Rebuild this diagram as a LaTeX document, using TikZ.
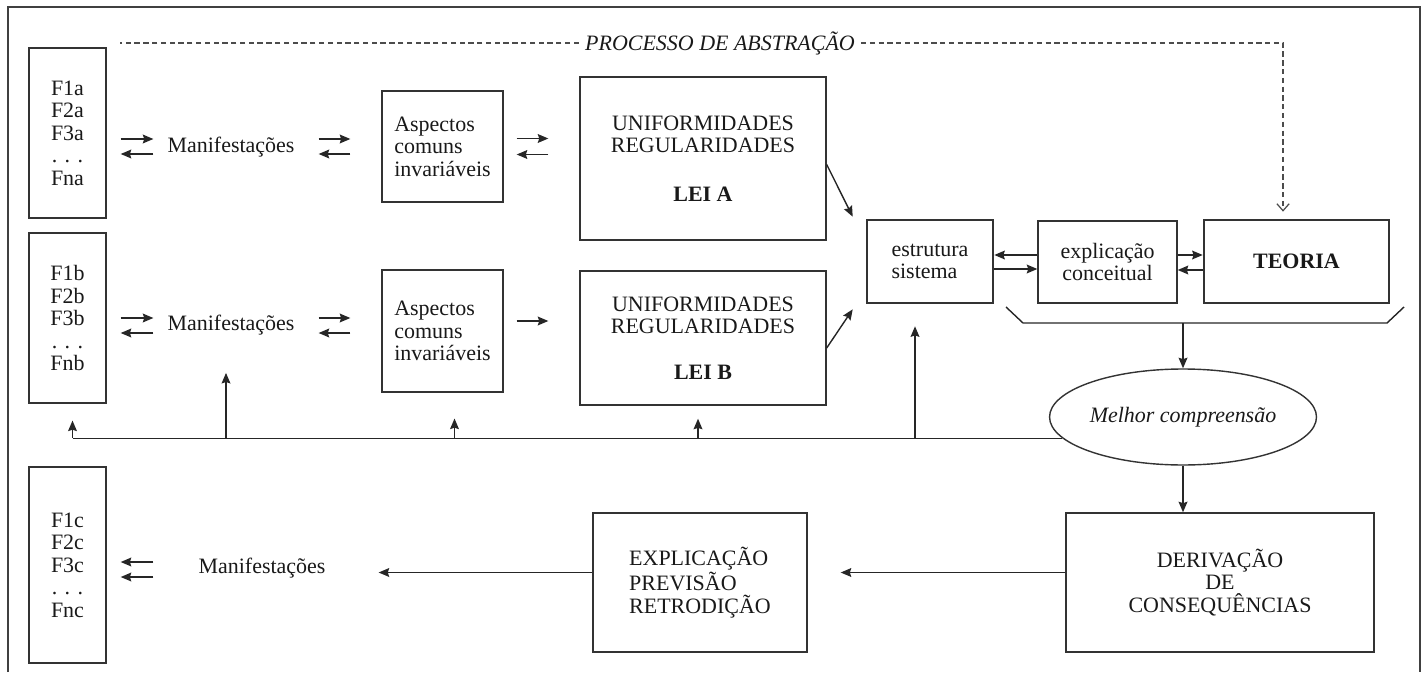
\documentclass[tikz,border=0pt]{standalone}
\usepackage{fontspec}
\setmainfont{Liberation Serif}
\usepackage{tikz}
\usetikzlibrary{arrows.meta, calc, shapes.geometric}
\newcommand{\dfont}{\fontsize{12.5}{12.8}\selectfont}

\begin{document}
\begin{tikzpicture}[x=0.02cm, y=-0.02cm,
    box/.style={draw=black!80, line width=0.8pt, font=\dfont, text=black!90, align=center, inner sep=0pt},
    thk/.style={box, line width=1.5pt},
    lbl/.style={font=\dfont, text=black!90},
    conn/.style={draw=black!85, line width=0.8pt},
    arr/.style={conn, -{Stealth[length=6pt,width=5pt,inset=0.8pt]}},
    dashline/.style={draw=black!70, line width=0.7pt, dash pattern=on 3pt off 2pt}]
    \useasboundingbox (0,0) rectangle (1425,672);
    \draw[black!75, line width=0.8pt] (8,672) -- (8,7) -- (1420,7) -- (1420,672);

    % row a
    \node[box, minimum width=1.54cm, minimum height=3.4cm] (fa) at (67.5,133) {F1a\\F2a\\F3a\\. . .\\Fna};
    \node[lbl] (ma) at (231,147) {Manifestações};
    \node[box, align=left, minimum width=2.42cm, minimum height=2.22cm] (aa) at (442.5,146.5) {Aspectos\\comuns\\invariáveis};
    \node[box, minimum width=4.92cm, minimum height=3.26cm] (ua) at (703,158.5) {UNIFORMIDADES\\REGULARIDADES\\[15pt]\textbf{LEI A}};

    % row b
    \node[box, minimum width=1.54cm, minimum height=3.4cm] (fb) at (67.5,318) {F1b\\F2b\\F3b\\. . .\\Fnb};
    \node[lbl] (mb) at (231,325) {Manifestações};
    \node[box, align=left, minimum width=2.42cm, minimum height=2.44cm] (ab) at (442.5,331) {Aspectos\\comuns\\invariáveis};
    \node[box, minimum width=4.92cm, minimum height=2.68cm] (ub) at (703,338) {UNIFORMIDADES\\REGULARIDADES\\[13pt]\textbf{LEI B}};

    % theory
    \node[thk, align=left, minimum width=2.52cm, minimum height=1.66cm] (es) at (930,261.5) {estrutura\\sistema};
    \node[box, minimum width=2.78cm, minimum height=1.64cm] (ex) at (1107.5,262) {explicação\\conceitual};
    \node[thk, minimum width=3.7cm, minimum height=1.66cm] (te) at (1296.5,261.5) {\textbf{TEORIA}};
    \node[box, ellipse, font=\dfont\itshape, minimum width=5.34cm, minimum height=1.92cm] (me) at (1183,417) {Melhor compreensão};

    % row c
    \node[box, minimum width=1.54cm, minimum height=3.92cm] (fc) at (67.5,565) {F1c\\F2c\\F3c\\. . .\\Fnc};
    \node[lbl] (mc) at (262,568) {Manifestações};
    \node[box, align=left, minimum width=4.28cm, minimum height=2.78cm] (ep) at (700,582.5) {EXPLICAÇÃO\\PREVISÃO\\RETRODIÇÃO};
    \node[box, minimum width=6.16cm, minimum height=2.78cm] (de) at (1220,582.5) {DERIVAÇÃO\\DE\\CONSEQUÊNCIAS};

    % abstraction
    \node[lbl, font=\dfont\itshape] (ti) at (720,43) {PROCESSO DE ABSTRAÇÃO};
    \coordinate (d1) at (120,43);
    \coordinate (d2) at (1283,43);
    \draw[dashline] (ti.west) -- (d1);
    \draw[dashline, -{Straight Barb[length=4pt,width=7pt]}, shorten >=4pt] (ti.east) -- (d2) -- (d2 |- te.north);

    % pairs row a
    \draw[arr] ($(fa.east |- ma)+(14,-8)$) -- ($(ma.west)+(-8,-8)$);
    \draw[arr] ($(ma.west)+(-8,7)$) -- ($(fa.east |- ma)+(14,7)$);
    \draw[arr] ($(ma.east)+(18,-8)$) -- ($(aa.west |- ma)+(-31,-8)$);
    \draw[arr] ($(aa.west |- ma)+(-31,7)$) -- ($(ma.east)+(18,7)$);
    \draw[arr] ($(aa.east)+(13,-8)$) -- ($(ua.west |- aa)+(-31,-8)$);
    \draw[arr] ($(ua.west |- aa)+(-31,8)$) -- ($(aa.east)+(13,8)$);

    % pairs row b
    \draw[arr] ($(fb.east |- mb)+(14,-7)$) -- ($(mb.west)+(-8,-7)$);
    \draw[arr] ($(mb.west)+(-8,8)$) -- ($(fb.east |- mb)+(14,8)$);
    \draw[arr] ($(mb.east)+(18,-7)$) -- ($(ab.west |- mb)+(-31,-7)$);
    \draw[arr] ($(ab.west |- mb)+(-31,8)$) -- ($(mb.east)+(18,8)$);
    \draw[arr] ($(ab.east)+(13,-10)$) -- ($(ub.west |- ab)+(-31,-10)$);

    % laws to structure
    \draw[arr] ($(ua.east)+(0,6)$) -- ($(es.north west)+(-13,-2)$);
    \draw[arr] ($(ub.east)+(0,10)$) -- ($(es.south west)+(-13,5)$);

    % theory block
    \draw[arr] ($(ex.west)+(0,-7)$) -- ($(es.east |- ex)+(0,-7)$);
    \draw[arr] ($(es.east |- ex)+(0,7)$) -- ($(ex.west)+(0,7)$);
    \draw[arr] ($(ex.east)+(0,-7)$) -- ($(te.west |- ex)+(0,-7)$);
    \draw[arr] ($(te.west |- ex)+(0,8)$) -- ($(ex.east)+(0,8)$);
    \coordinate (k1) at (1006,307);
    \coordinate (k2) at (1023,323);
    \coordinate (k3) at (1387,323);
    \coordinate (k4) at (1404,307);
    \draw[conn] (k1) -- (k2) -- (k3) -- (k4);
    \draw[arr] (me.north |- k2) -- (me.north);
    \draw[arr] (me.south) -- (me.south |- de.north);

    % feedback
    \coordinate (b1) at ($(fb.south |- me.190)+(5,0)$);
    \coordinate (b2) at ($(mb.south |- me.190)+(-5,0)$);
    \coordinate (b3) at ($(ab.south |- me.190)+(12,0)$);
    \coordinate (b4) at ($(ub.south |- me.190)+(-5,0)$);
    \coordinate (b5) at ($(es.south |- me.190)+(-15,0)$);
    \draw[conn] (me.190) -- (b1);
    \draw[arr, shorten >=9.6pt] (b1) -- (b1 |- fb.south);
    \draw[arr, shorten >=18pt] (b2) -- (b2 |- mb.south);
    \draw[arr, shorten >=14.7pt] (b3) -- (b3 |- ab.south);
    \draw[arr, shorten >=7.4pt] (b4) -- (b4 |- ub.south);
    \draw[arr, shorten >=12.5pt] (b5) -- (b5 |- es.south);

    % row c
    \draw[arr] ($(de.west)+(0,-10)$) -- ($(ep.east |- de.west)+(33,-10)$);
    \draw[arr] ($(ep.west)+(0,-10)$) -- ($(mc.east |- ep.west)+(47,-10)$);
    \draw[arr] ($(mc.west)+(-39,-6)$) -- ($(fc.east |- mc)+(14,-6)$);
    \draw[arr] ($(mc.west)+(-39,9)$) -- ($(fc.east |- mc)+(14,9)$);
\end{tikzpicture}
\end{document}
